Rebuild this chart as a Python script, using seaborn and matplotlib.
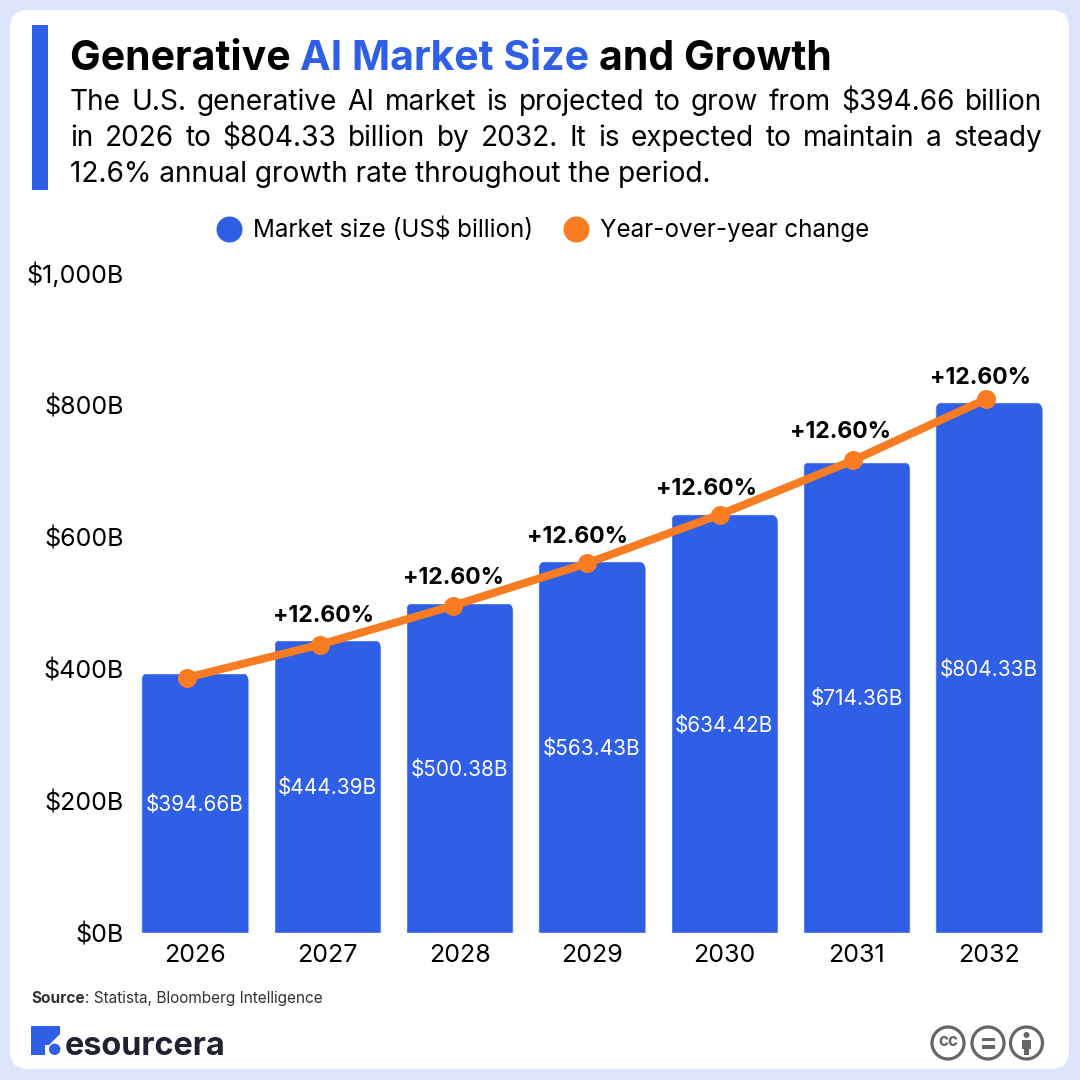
import numpy as np
import seaborn as sns
from matplotlib import pyplot
from matplotlib.lines import Line2D
from matplotlib.patches import Circle, FancyBboxPatch, Polygon, Rectangle
from matplotlib.transforms import IdentityTransform

YEARS = ["2026", "2027", "2028", "2029", "2030", "2031", "2032"]
MARKET_SIZE = [394.66, 444.39, 500.38, 563.43, 634.42, 714.36, 804.33]
# line height as drawn in the picture
CHANGE_LINE = [387, 437, 496, 560, 634, 716, 809]
CHANGE_LABELS = ["", "+12.60%", "+12.60%", "+12.60%", "+12.60%", "+12.60%", "+12.60%"]
Y_TICKS = [0, 200, 400, 600, 800, 1000]
Y_LABELS = ["$0B", "$200B", "$400B", "$600B", "$800B", "$1,000B"]

BACKGROUND = "#dce5fb"
BLUE = "#2f5fe6"
ORANGE = "#f97b22"
INK = "#000000"
LOGO_INK = "#1e2233"
GREY = "#666666"
FONT = "Inter"
PX = 0.72  # pixels to points at dpi 100

# where each change label sits relative to its point, in pixels
LABEL_SHIFT_X = [0, 3, 0, -9, -13, -13, -6]
LABEL_SHIFT_Y = [0, 29, 28, 26, 26, 28, 21]

sns.set_theme(style="white")
pyplot.rcParams["font.family"] = [FONT, "DejaVu Sans"]

figure = pyplot.figure(figsize=(10.8, 10.8), dpi=100, facecolor=BACKGROUND)
deco = figure.add_axes([0, 0, 1, 1], zorder=0)
deco.set_xlim(0, 1080)
deco.set_ylim(1080, 0)
deco.axis("off")
renderer = figure.canvas.get_renderer()

deco.add_patch(FancyBboxPatch((10, 10), 1059, 1059, boxstyle="round,pad=0,rounding_size=18",
                              facecolor="white", edgecolor="none"))
deco.add_patch(Rectangle((31.5, 25), 16.5, 165, facecolor=BLUE, edgecolor="none"))


def text_width(item):
    return item.get_window_extent(renderer).width


def draw_runs(x, y, runs, size):
    # pieces of one line in different colours or weights
    for string, color, weight in runs:
        item = deco.text(x, y, string, color=color, fontweight=weight, fontsize=size * PX, va="baseline")
        x += text_width(item)


def draw_justified(x, y, line, right, size):
    words = [deco.text(0, y, word, color=INK, fontsize=size * PX, va="baseline") for word in line.split()]
    widths = [text_width(word) for word in words]
    gap = (right - x - sum(widths)) / (len(words) - 1)
    for word, width in zip(words, widths):
        word.set_x(x)
        x += width + gap


draw_runs(70, 70, [("Generative ", INK, "bold"), ("AI Market Size ", BLUE, "bold"), ("and Growth", INK, "bold")], 41)
draw_justified(70, 110, "The U.S. generative AI market is projected to grow from $394.66 billion", 1042, 28)
draw_justified(70, 146, "in 2026 to $804.33 billion by 2032. It is expected to maintain a steady", 1042, 28)
deco.text(70, 182, "12.6% annual growth rate throughout the period.", color=INK, fontsize=28 * PX, va="baseline")

draw_runs(31, 1003, [("Source", "#333333", "bold"), (": Statista, Bloomberg Intelligence", "#333333", "normal")], 15.4)

# logo
deco.add_patch(Polygon([(31, 1026), (60, 1026), (60, 1034), (49, 1045), (45, 1045), (45, 1055), (31, 1055)],
                       facecolor=BLUE, edgecolor="none"))
deco.add_patch(Circle((54.7, 1049.3), 5.7, facecolor=BLUE, edgecolor="none"))
deco.text(65, 1055, "esourcera", color=LOGO_INK, fontweight="bold", fontsize=32.4 * PX, va="baseline")

# licence badges
for center in [948, 988, 1026.5]:
    deco.add_patch(Circle((center, 1043), 16, facecolor="white", edgecolor=GREY, linewidth=3.2 * PX))
deco.text(948, 1042, "cc", color=GREY, fontweight="bold", fontsize=17 * PX, ha="center", va="center")
deco.add_patch(Rectangle((981.5, 1037.5), 13, 3.5, facecolor=GREY, edgecolor="none"))
deco.add_patch(Rectangle((981.5, 1045), 13, 3.5, facecolor=GREY, edgecolor="none"))
deco.add_patch(Circle((1026.5, 1035), 3, facecolor=GREY, edgecolor="none"))
deco.add_patch(Rectangle((1022, 1039.5), 9, 9, facecolor=GREY, edgecolor="none"))
deco.add_patch(Rectangle((1024, 1048), 5, 7, facecolor=GREY, edgecolor="none"))

# chart area in pixels: first bar centre 195, bar step 132.33, y=0 at 933, y=1000 at 273
left, right, bottom, top = 130, 1050, 933, 273
axes = figure.add_axes([left / 1080, 1 - bottom / 1080, (right - left) / 1080, (bottom - top) / 1080], zorder=1)
axes.patch.set_alpha(0)

sns.barplot(x=YEARS, y=MARKET_SIZE, color=BLUE, saturation=1, width=0.81, ax=axes)
# the line runs a little off the bar centres and on a slightly wider step
line_positions = np.arange(len(YEARS)) * 1.0065 - 0.06
sns.lineplot(x=line_positions, y=CHANGE_LINE, color=ORANGE, linewidth=8 * PX, marker="o",
             markersize=19 * PX, markeredgewidth=0, ax=axes, zorder=4)

step = 132.33
axes.set_xlim((left - 195) / step, (right - 195) / step)
axes.set_ylim(0, 1000)
axes.set_yticks(Y_TICKS, Y_LABELS)
axes.tick_params(axis="both", length=0, colors=INK, labelsize=25 * PX)
axes.tick_params(axis="x", pad=8)
axes.tick_params(axis="y", pad=4.5)
sns.despine(ax=axes, left=True, bottom=True)

bars = axes.containers[0]
value_labels = axes.bar_label(bars, labels=[f"${value:.2f}B" for value in MARKET_SIZE], label_type="center",
                              color="white", fontsize=20.8 * PX)
for label in value_labels:
    label.xyann = (0, -2 * PX)

# rounded top corners, the bottom of the clip hangs below the baseline
figure.canvas.draw()
for bar in bars:
    box = bar.get_window_extent(renderer)
    clip = FancyBboxPatch((box.x0, box.y0 - 20), box.width, box.height + 20,
                          boxstyle="round,pad=0,rounding_size=9", transform=IdentityTransform())
    bar.set_clip_path(clip)

for x, y, label, shift_x, shift_y in zip(line_positions, CHANGE_LINE, CHANGE_LABELS, LABEL_SHIFT_X, LABEL_SHIFT_Y):
    axes.annotate(label, (x, y), xytext=(shift_x * PX, shift_y * PX), textcoords="offset points",
                  ha="center", va="center", color=INK, fontweight="bold", fontsize=23 * PX, zorder=5)

handles = [Line2D([], [], linestyle="none", marker="o", markersize=26 * PX, color=BLUE, markeredgewidth=0),
           Line2D([], [], linestyle="none", marker="o", markersize=26 * PX, color=ORANGE, markeredgewidth=0)]
figure.legend(handles, ["Market size (US$ billion)", "Year-over-year change"], ncols=2, frameon=False,
              fontsize=24.2 * PX, loc="center", bbox_to_anchor=(543 / 1080, 1 - 230 / 1080),
              handletextpad=0.48, columnspacing=1.3, handlelength=1.0, labelcolor=INK)

figure.savefig("out.png", dpi=100, facecolor=BACKGROUND)
